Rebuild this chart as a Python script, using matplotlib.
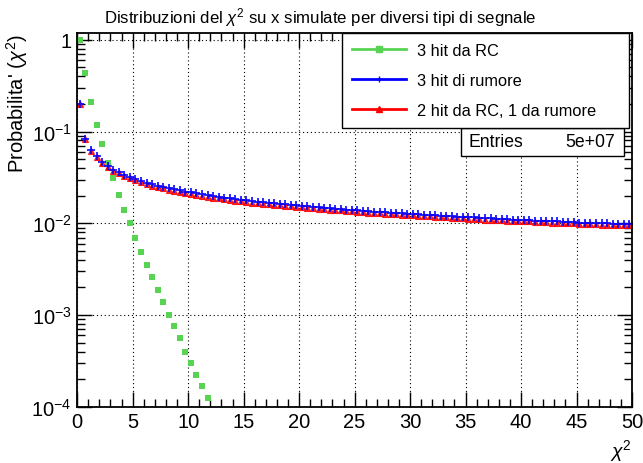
import numpy as np
import matplotlib
matplotlib.use("Agg")
import matplotlib.pyplot as plt
from matplotlib.lines import Line2D
from matplotlib.ticker import MultipleLocator, LogLocator, FuncFormatter, NullFormatter

plt.rcParams['font.family'] = ['Liberation Sans', 'DejaVu Sans']
plt.rcParams['mathtext.fontset'] = 'custom'
plt.rcParams['mathtext.rm'] = 'Liberation Sans'
plt.rcParams['mathtext.it'] = 'Liberation Sans:italic'

# histogram bins: 100 bins from 0 to 50
bin_edges = np.linspace(0, 50, 101)
bin_centers = 0.5 * (bin_edges[:-1] + bin_edges[1:])

# "3 hit da RC" (only non-empty bins, first 24)
rc_vals = [1.0, 0.43, 0.21, 0.118, 0.073, 0.046, 0.031, 0.0205, 0.0141, 0.0100,
           0.0069, 0.0049, 0.0035, 0.0026, 0.0019, 0.00138, 0.0010, 0.00076,
           0.00056, 0.00040, 0.00030, 0.00022, 0.00017, 0.000124]

# "3 hit di rumore"
noise_vals = [0.20, 0.083, 0.063, 0.054, 0.047, 0.042, 0.038, 0.036, 0.0335, 0.0318,
              0.0303, 0.0290, 0.0278, 0.0268, 0.0258, 0.0250, 0.0242, 0.0235, 0.0228, 0.0222,
              0.0217, 0.0212, 0.0207, 0.0203, 0.0198, 0.0194, 0.0191, 0.0187, 0.0184, 0.0181,
              0.0178, 0.0175, 0.0172, 0.0170, 0.0167, 0.0165, 0.0163, 0.0161, 0.0159, 0.0157,
              0.0155, 0.0153, 0.0151, 0.0149, 0.0148, 0.0146, 0.0144, 0.0143, 0.0141, 0.0140,
              0.0138, 0.0137, 0.0136, 0.0134, 0.0133, 0.0132, 0.0131, 0.0129, 0.0128, 0.0127,
              0.0126, 0.0125, 0.0124, 0.0123, 0.0122, 0.0121, 0.0120, 0.0119, 0.0118, 0.0117,
              0.0116, 0.0116, 0.0115, 0.0114, 0.0113, 0.0112, 0.0112, 0.0111, 0.0110, 0.0109,
              0.0109, 0.0108, 0.0107, 0.0107, 0.0106, 0.0105, 0.0105, 0.0104, 0.0104, 0.0103,
              0.0102, 0.0102, 0.0101, 0.0101, 0.0100, 0.0100, 0.0099, 0.0099, 0.0098, 0.0098]

# "2 hit da RC, 1 da rumore"
mixed_vals = [0.20, 0.082, 0.062, 0.053, 0.046, 0.041, 0.037, 0.035, 0.0325, 0.0308,
              0.0293, 0.0280, 0.0268, 0.0258, 0.0249, 0.0241, 0.0233, 0.0226, 0.0220, 0.0214,
              0.0209, 0.0204, 0.0199, 0.0195, 0.0191, 0.0187, 0.0183, 0.0180, 0.0177, 0.0174,
              0.0171, 0.0168, 0.0166, 0.0163, 0.0161, 0.0159, 0.0157, 0.0155, 0.0153, 0.0151,
              0.0149, 0.0147, 0.0146, 0.0144, 0.0142, 0.0141, 0.0139, 0.0138, 0.0136, 0.0135,
              0.0133, 0.0132, 0.0131, 0.0129, 0.0128, 0.0127, 0.0126, 0.0125, 0.0124, 0.0123,
              0.0122, 0.0121, 0.0120, 0.0119, 0.0118, 0.0117, 0.0116, 0.0115, 0.0114, 0.0113,
              0.0112, 0.0112, 0.0111, 0.0110, 0.0109, 0.0109, 0.0108, 0.0107, 0.0107, 0.0106,
              0.0105, 0.0105, 0.0104, 0.0103, 0.0103, 0.0102, 0.0102, 0.0101, 0.0100, 0.0100,
              0.0099, 0.0099, 0.0098, 0.0098, 0.0097, 0.0097, 0.0096, 0.0096, 0.0095, 0.0095]

labels = ['3 hit da RC', '3 hit di rumore', '2 hit da RC, 1 da rumore']
green = '#59d354'

fig = plt.figure(figsize=(6.43, 4.64), dpi=100)
ax = fig.add_axes([0.12, 0.121, 0.863, 0.806])

ax.plot(bin_centers[:len(rc_vals)], rc_vals, 's', color=green, markersize=4.5, markeredgewidth=0)
ax.plot(bin_centers, mixed_vals, '^', color='red', markersize=4.3, markeredgewidth=0.8, alpha=0.85)
ax.plot(bin_centers, noise_vals, '+', color='blue', markersize=5.5, markeredgewidth=1.3, alpha=0.9)

ax.set_yscale('log')
ax.set_xlim(0, 50)
ax.set_ylim(1e-4, 1.19)

ax.xaxis.set_major_locator(MultipleLocator(5))
ax.xaxis.set_minor_locator(MultipleLocator(1))
ax.yaxis.set_major_locator(LogLocator(base=10, numticks=10))
ax.yaxis.set_minor_locator(LogLocator(base=10, subs=np.arange(2, 10), numticks=10))
ax.yaxis.set_minor_formatter(NullFormatter())


def log_fmt(v, pos):
    e = int(round(np.log10(v)))
    if e == 0:
        return '1'
    return r'$10^{%d}$' % e


ax.yaxis.set_major_formatter(FuncFormatter(log_fmt))
ax.tick_params(which='both', direction='in', top=True, right=True, labelsize=14.5, width=1)
ax.tick_params(which='major', length=11, pad=4)
ax.tick_params(which='minor', length=6)
ax.grid(True, which='major', color='black', linestyle=(0, (1, 2.5)), linewidth=0.8)
for s in ax.spines.values():
    s.set_linewidth(1.3)

fig.text(0.498, 1 - 18 / 464, r"Distribuzioni del $\chi^2$ su x simulate per diversi tipi di segnale",
         fontsize=12.1, ha='center', va='center')
ax.set_xlabel(r'$\chi^2$', fontsize=14, loc='right')
ax.set_ylabel(r"Probabilita' ($\chi^2$)", fontsize=14.5, loc='top', labelpad=1)

handles = [
    Line2D([], [], color=green, lw=2, marker='s', markersize=5),
    Line2D([], [], color='blue', lw=2, marker='+', markersize=5),
    Line2D([], [], color='red', lw=2, marker='^', markersize=4),
]
leg = ax.legend(handles, labels, loc='upper left', bbox_to_anchor=(0.477, 0.754, 0.518, 0.246),
                mode='expand', fontsize=11.8, fancybox=False, framealpha=1, edgecolor='black',
                handlelength=3.3, handletextpad=0.7, labelspacing=0.92, borderpad=0.6,
                borderaxespad=0)
leg.get_frame().set_linewidth(1.0)

# stats box
ax.text(0.706, 0.709, 'Entries', transform=ax.transAxes, fontsize=12.7, va='center', ha='left', zorder=6)
ax.text(0.969, 0.709, '5e+07', transform=ax.transAxes, fontsize=12.7, va='center', ha='right', zorder=6)
ax.add_patch(plt.Rectangle((0.692, 0.671), 0.294, 0.075, transform=ax.transAxes,
                           facecolor='white', edgecolor='black', lw=1.0, zorder=5))

fig.savefig('out.png', dpi=100)
